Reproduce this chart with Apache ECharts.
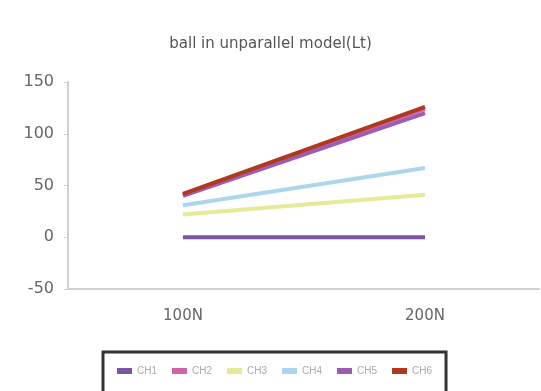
<!DOCTYPE html>
<html>
<head>
<meta charset="utf-8">
<script src="https://cdn.jsdelivr.net/npm/echarts@6/dist/echarts.min.js"></script>
<style>
  html, body { margin: 0; padding: 0; background: #fff; }
  #chart { width: 541px; height: 391px; }
</style>
</head>
<body>
<div id="chart"></div>
<script>
var loads = ['100N', '200N'];
var loadPos = [1, 2];
var names = ['CH1', 'CH2', 'CH3', 'CH4', 'CH5', 'CH6'];
var ch1 = [0, 0];
var ch2 = [41, 124];
var ch3 = [22, 41];
var ch4 = [31, 67];
var ch5 = [40, 120];
var ch6 = [42, 126];
var colors = ['#7a55a6', '#d262a8', '#e4ea98', '#acd7ea', '#9c5cb4', '#b0391c'];

var values = [ch1, ch2, ch3, ch4, ch5, ch6];
var series = names.map(function (n, i) {
    return {
        name: n,
        type: 'line',
        symbol: 'none',
        data: values[i].map(function (v, j) { return [loadPos[j], v]; }),
        lineStyle: { width: 4, color: colors[i] },
        itemStyle: { color: colors[i] },
        z: i === 0 ? 1 : i + 2
    };
});

var myChart = echarts.init(document.getElementById('chart'));
myChart.setOption({
    animation: false,
    title: {
        text: 'ball in unparallel model(Lt)',
        left: 'center',
        top: 32,
        textStyle: { fontSize: 15, fontWeight: 'normal', color: '#555', fontFamily: 'DejaVu Sans' }
    },
    grid: { left: 68, right: 2, top: 82, bottom: 102 },
    xAxis: {
        type: 'value',
        min: 0.525,
        max: 2.471,
        splitLine: { show: false },
        axisLine: { onZero: false, lineStyle: { color: '#d0d0d0', width: 2 } },
        axisTick: { show: false },
        axisLabel: {
            customValues: loadPos,
            formatter: function (v) { return loads[loadPos.indexOf(v)] || ''; },
            fontSize: 15, color: '#666', margin: 20, fontFamily: 'DejaVu Sans'
        }
    },
    yAxis: {
        type: 'value',
        min: -50,
        max: 150,
        interval: 50,
        splitLine: { show: false },
        axisLine: { show: true, onZero: false, lineStyle: { color: '#d0d0d0', width: 2 } },
        axisTick: { show: true, length: 4, lineStyle: { color: '#d0d0d0' } },
        axisLabel: { fontSize: 16, color: '#666', margin: 14, fontFamily: 'DejaVu Sans' }
    },
    legend: {
        data: names,
        left: 103,
        top: 352,
        width: 344,
        padding: [14, 14, 20, 14],
        borderColor: '#333',
        borderWidth: 3,
        itemWidth: 15,
        itemHeight: 6,
        itemGap: 15,
        icon: 'rect',
        textStyle: { fontSize: 10, color: '#aaa' }
    },
    series: series
});
</script>
</body>
</html>
